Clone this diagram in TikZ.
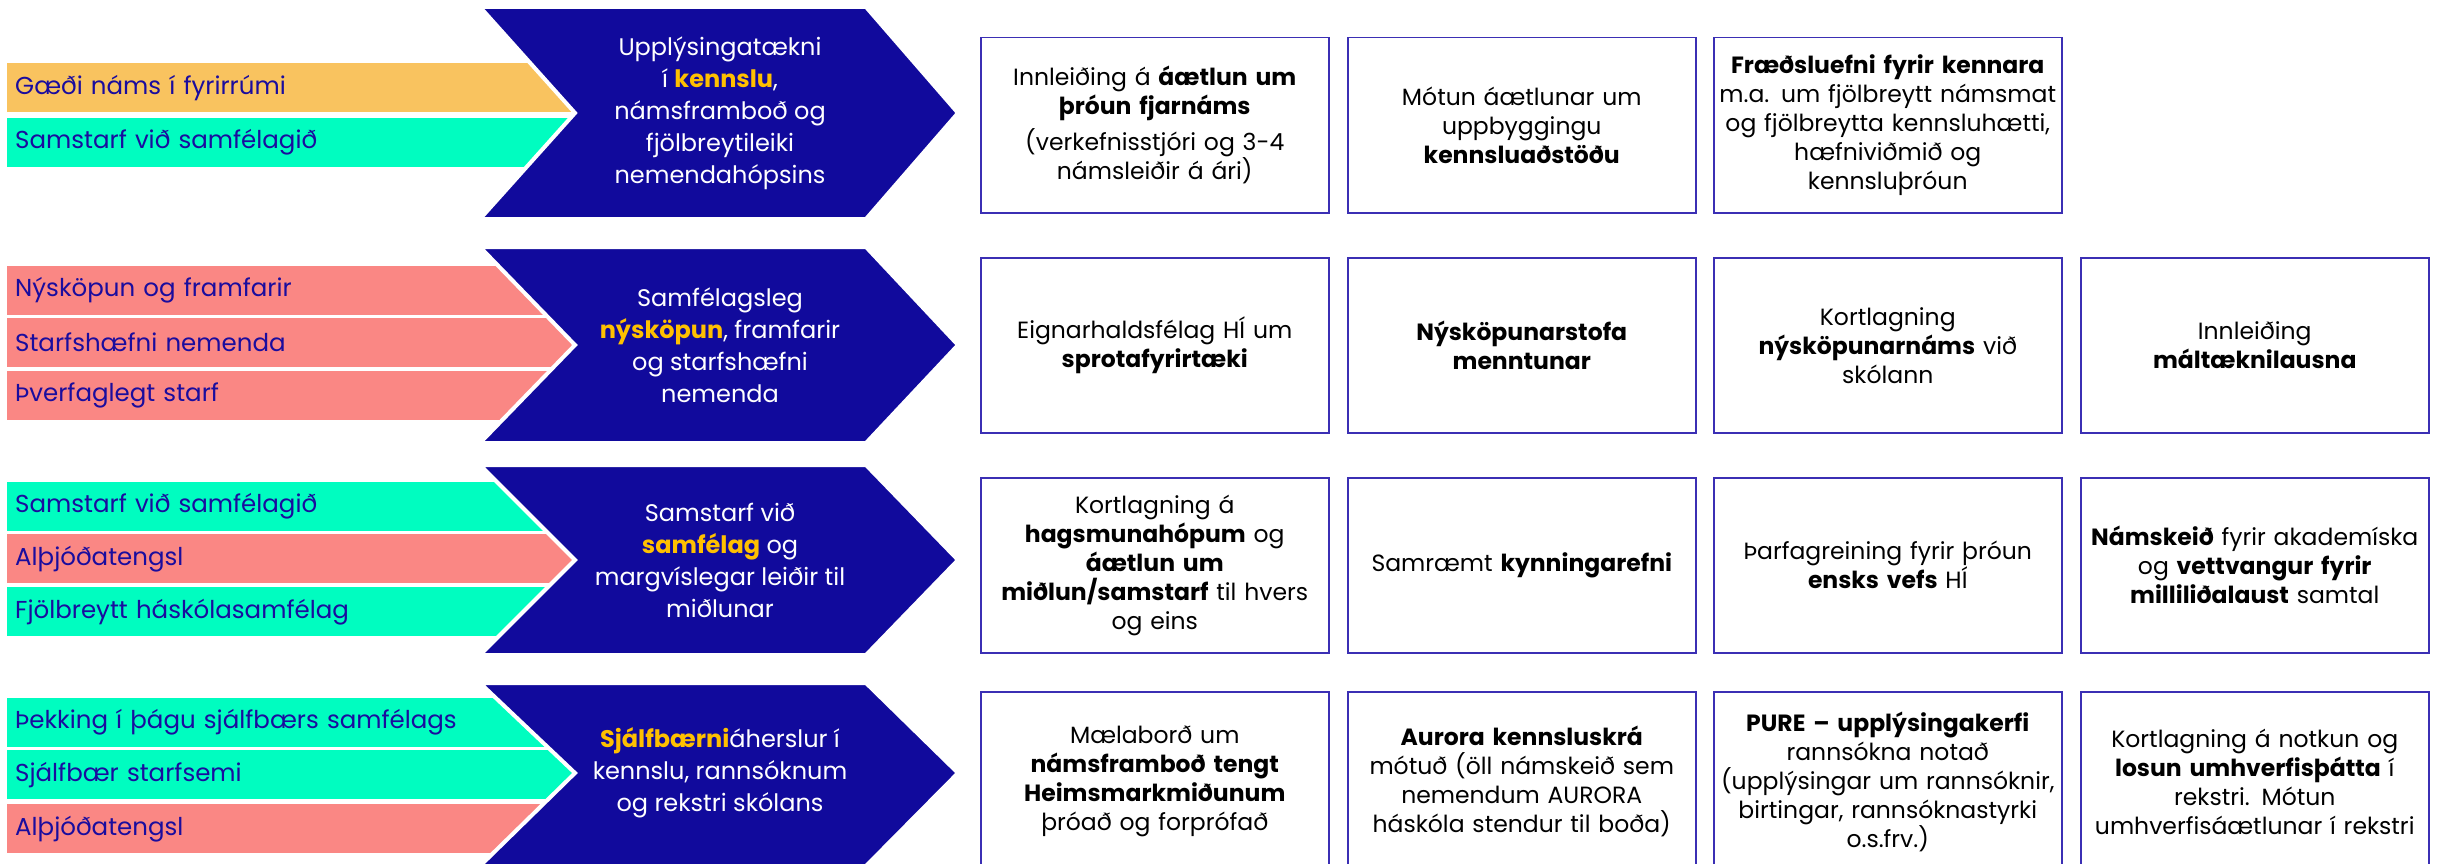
\documentclass[tikz,border=0pt]{standalone}
\usepackage{fontspec}
\setmainfont{Poppins}
\definecolor{hiNavy}{HTML}{110A9C}
\definecolor{hiInk}{HTML}{1A0C9E}
\definecolor{hiGold}{HTML}{FFC000}
\definecolor{hiOrange}{HTML}{F9C35F}
\definecolor{hiAqua}{HTML}{00FDC0}
\definecolor{hiSalmon}{HTML}{FA8784}
\definecolor{hiFrame}{HTML}{3B2FB4}
\usepackage{tikz}
\newcommand{\hiword}[1]{\textcolor{hiGold}{\textbf{#1}}}

\tikzset{
  bar/.style={anchor=north west, minimum width=593pt, minimum height=49pt,
    inner xsep=8pt, inner ysep=0pt, text width=577pt, align=left,
    text=hiInk, font=\fontsize{24.5}{30}\selectfont},
  chevron/.style={fill=hiNavy, draw=white, line width=4pt, line join=miter},
  chevtext/.style={text=white, align=center, font=\fontsize{24}{32}\selectfont},
  goalbox/.style={anchor=north west, draw=hiFrame, line width=1.5pt, fill=white,
    minimum width=348pt, minimum height=175pt, text width=340pt, align=center,
    inner sep=0pt, font=\fontsize{23.5}{29}\selectfont}
}

\begin{document}
\begin{tikzpicture}[x=1pt, y=-1pt]
  \useasboundingbox (0,0) rectangle (2442,864);

  % Row 1 -- upplysingataekni
  \node[bar, fill=hiOrange] (b11) at (7,63) {Gæði náms í fyrirrúmi};
  \node[bar, fill=hiAqua] (b12) at (7,118) {Samstarf við samfélagið};
  \fill[chevron] (480,7) -- (866,7) -- (958,113) -- (866,219) -- (480,219) -- (575,113) -- cycle;
  \node[chevtext] (c1) at (720,113) {Upplýsingatækni\\ í \hiword{kennslu},\\ námsframboð og\\ fjölbreytileiki\\ nemendahópsins};
  \node[goalbox] (g11) at (980,37) {Innleiðing á \textbf{áætlun um}\\ \textbf{þróun fjarnáms}\\[7pt] (verkefnisstjóri og 3-4\\ námsleiðir á ári)};
  \node[goalbox] (g12) at (1347,37) {Mótun áætlunar um\\ uppbyggingu\\ \textbf{kennsluaðstöðu}};
  \node[goalbox] (g13) at (1713,37) {\textbf{Fræðsluefni fyrir kennara}\\ m.a. um fjölbreytt námsmat\\ og fjölbreytta kennsluhætti,\\ hæfniviðmið og\\ kennsluþróun};

  % Row 2 -- nyskopun
  \node[bar, fill=hiSalmon] (b21) at (7,266) {Nýsköpun og framfarir};
  \node[bar, fill=hiSalmon] (b22) at (7,318) {Starfshæfni nemenda};
  \node[bar, fill=hiSalmon] (b23) at (7,371) {Þverfaglegt starf};
  \fill[chevron] (480,247) -- (866,247) -- (958,345) -- (866,443) -- (480,443) -- (575,345) -- cycle;
  \node[chevtext] (c2) at (720,345) {Samfélagsleg\\ \hiword{nýsköpun}, framfarir\\ og starfshæfni\\ nemenda};
  \node[goalbox] (g21) at (980,257) {Eignarhaldsfélag HÍ um\\ \textbf{sprotafyrirtæki}};
  \node[goalbox] (g22) at (1347,257) {\textbf{Nýsköpunarstofa}\\ \textbf{menntunar}};
  \node[goalbox] (g23) at (1713,257) {Kortlagning\\ \textbf{nýsköpunarnáms} við\\ skólann};
  \node[goalbox] (g24) at (2080,257) {Innleiðing\\ \textbf{máltæknilausna}};

  % Row 3 -- samstarf
  \node[bar, fill=hiAqua] (b31) at (7,482) {Samstarf við samfélagið};
  \node[bar, fill=hiSalmon] (b32) at (7,534) {Alþjóðatengsl};
  \node[bar, fill=hiAqua] (b33) at (7,587) {Fjölbreytt háskólasamfélag};
  \fill[chevron] (480,465) -- (866,465) -- (958,560) -- (866,655) -- (480,655) -- (575,560) -- cycle;
  \node[chevtext] (c3) at (720,560) {Samstarf við\\ \hiword{samfélag} og\\ margvíslegar leiðir til\\ miðlunar};
  \node[goalbox] (g31) at (980,477) {Kortlagning á\\ \textbf{hagsmunahópum} og\\ \textbf{áætlun um}\\ \textbf{miðlun/samstarf} til hvers\\ og eins};
  \node[goalbox] (g32) at (1347,477) {Samræmt \textbf{kynningarefni}};
  \node[goalbox] (g33) at (1713,477) {Þarfagreining fyrir þróun\\ \textbf{ensks vefs} HÍ};
  \node[goalbox] (g34) at (2080,477) {\textbf{Námskeið} fyrir akademíska\\ og \textbf{vettvangur fyrir}\\ \textbf{milliliðalaust} samtal};

  % Row 4 -- sjalfbaerni
  \node[bar, fill=hiAqua] (b41) at (7,698) {Þekking í þágu sjálfbærs samfélags};
  \node[bar, fill=hiAqua] (b42) at (7,750) {Sjálfbær starfsemi};
  \node[bar, fill=hiSalmon] (b43) at (7,804) {Alþjóðatengsl};
  \fill[chevron] (480,683) -- (866,683) -- (958,773) -- (866,866) -- (480,866) -- (575,773) -- cycle;
  \node[chevtext] (c4) at (720,773) {\hiword{Sjálfbærni}áherslur í\\ kennslu, rannsóknum\\ og rekstri skólans};
  \node[goalbox, minimum height=180pt] (g41) at (980,691) {Mælaborð um\\ \textbf{námsframboð tengt}\\ \textbf{Heimsmarkmiðunum}\\ þróað og forprófað};
  \node[goalbox, minimum height=180pt] (g42) at (1347,691) {\textbf{Aurora kennsluskrá}\\ mótuð (öll námskeið sem\\ nemendum AURORA\\ háskóla stendur til boða)};
  \node[goalbox, minimum height=180pt] (g43) at (1713,691) {\textbf{PURE – upplýsingakerfi}\\ rannsókna notað\\ (upplýsingar um rannsóknir,\\ birtingar, rannsóknastyrki\\ o.s.frv.)};
  \node[goalbox, minimum height=180pt] (g44) at (2080,691) {Kortlagning á notkun og\\ \textbf{losun umhverfisþátta} í\\ rekstri. Mótun\\ umhverfisáætlunar í rekstri};

\end{tikzpicture}
\end{document}
